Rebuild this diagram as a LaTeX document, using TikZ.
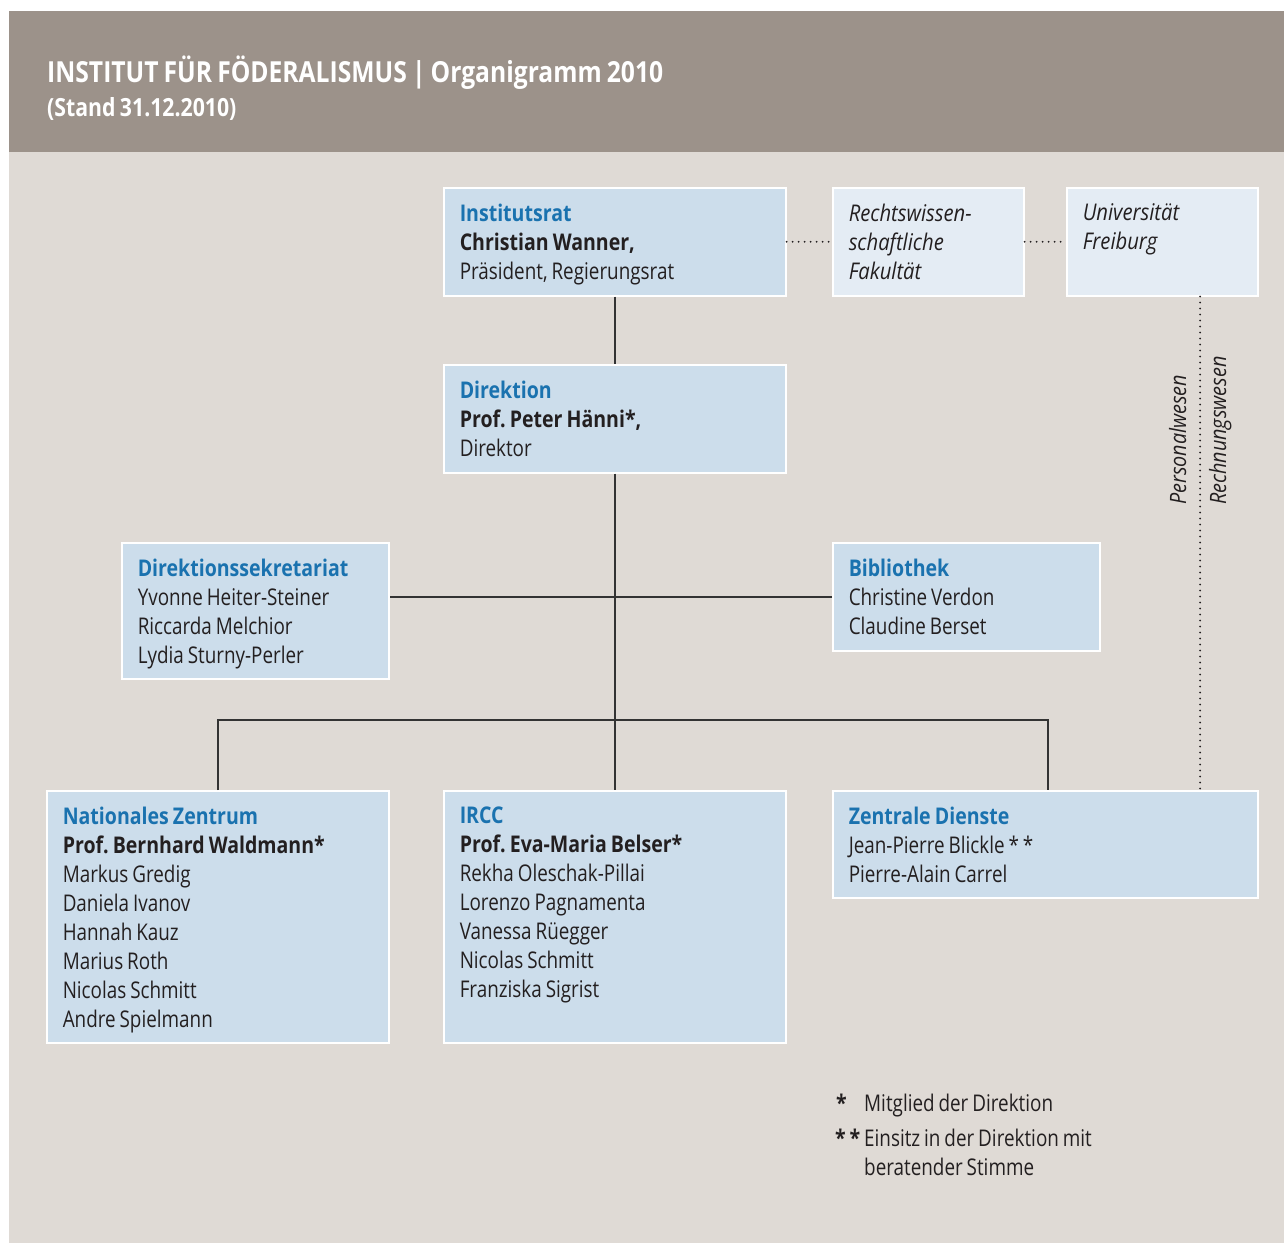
\documentclass[tikz,border=0pt]{standalone}
\usepackage{fontspec}
\setmainfont{Open Sans}[FakeStretch=0.82, WordSpace=0.8,
  BoldFeatures={FakeStretch=0.85},
  ItalicFeatures={FakeStretch=0.88}]
\frenchspacing
\definecolor{headband}{HTML}{9C928A}
\definecolor{paper}{HTML}{DFDAD5}
\definecolor{unitfill}{HTML}{CCDDEB}
\definecolor{palefill}{HTML}{E4ECF4}
\definecolor{unitblue}{HTML}{1A72AF}
\definecolor{ink}{HTML}{231F20}
\definecolor{wire}{HTML}{333333}
\newcommand\orghead[1]{\textcolor{unitblue}{\textbf{#1}}}
\begin{document}
\begin{tikzpicture}[x=1pt,y=-1pt,
  unit/.style={draw=white, line width=1.5pt, fill=unitfill, anchor=north west,
    inner xsep=16pt, inner ysep=0pt, align=left, text=ink,
    font=\fontsize{23}{29}\selectfont,
    execute at begin node={\spaceskip=0pt\xspaceskip=0pt\rule{0pt}{25pt}},
    execute at end node={\rule[-7pt]{0pt}{0pt}}},
  pale/.style={unit, fill=palefill, font=\fontsize{23}{29}\selectfont\itshape},
  wireline/.style={draw=wire, line width=1.5pt},
  dotline/.style={draw=ink, line width=2pt, line cap=round, dash pattern=on 0pt off 6pt},
  sidelabel/.style={rotate=90, anchor=base west, inner sep=0pt, text=ink,
    font=\fontsize{22.5}{27}\selectfont\itshape},
  notetext/.style={anchor=base west, inner sep=0pt, text=ink,
    font=\fontsize{23}{29}\selectfont}]
\useasboundingbox (0,0) rectangle (1284,1243);
\fill[white] (0,0) rectangle (1284,1243);
% backgrounds
\fill[paper] (9,152) rectangle (1284,1243);
\fill[headband] (9,11) rectangle (1284,152);
\node[anchor=base west, inner sep=0pt, text=white, font=\fontsize{29}{34}\selectfont\bfseries] (title) at (47,82)
  {INSTITUT FÜR FÖDERALISMUS | Organigramm 2010};
\node[anchor=base west, inner sep=0pt, text=white, font=\fontsize{25}{30}\selectfont\bfseries] (stand) at (47,116)
  {(Stand 31.12.2010)};

% units
\node[unit, text width=310pt, minimum height=108pt] (inst) at (443,187)
  {\orghead{Institutsrat}\\\textbf{Christian Wanner,}\\Präsident, Regierungsrat};
\node[pale, text width=159pt, minimum height=108pt] (rwf) at (832,187)
  {Rechtswissen-\\schaftliche\\Fakultät};
\node[pale, text width=159pt, minimum height=108pt] (uni) at (1066,187)
  {Universität\\Freiburg\\\strut};
\node[unit, text width=310pt, minimum height=108pt] (dir) at (443,364)
  {\orghead{Direktion}\\\textbf{Prof. Peter Hänni*,}\\Direktor};
\node[unit, text width=235pt, minimum height=136pt] (sek) at (121,542)
  {\orghead{Direktionssekretariat}\\Yvonne Heiter-Steiner\\Riccarda Melchior\\Lydia Sturny-Perler};
\node[unit, text width=235pt, minimum height=108pt] (bib) at (832,542)
  {\orghead{Bibliothek}\\Christine Verdon\\Claudine Berset};
\node[unit, text width=310pt, minimum height=252pt] (nat) at (46,790)
  {\orghead{Nationales Zentrum}\\\textbf{Prof. Bernhard Waldmann*}\\Markus Gredig\\Daniela Ivanov\\Hannah Kauz\\Marius Roth\\Nicolas Schmitt\\Andre Spielmann};
\node[unit, text width=310pt, minimum height=252pt] (ircc) at (443,790)
  {\orghead{IRCC}\\\textbf{Prof. Eva-Maria Belser*}\\Rekha Oleschak-Pillai\\Lorenzo Pagnamenta\\Vanessa Rüegger\\Nicolas Schmitt\\Franziska Sigrist\\\strut};
\node[unit, text width=393pt, minimum height=107pt] (zd) at (832,790)
  {\orghead{Zentrale Dienste}\\Jean-Pierre Blickle *\,*\\Pierre-Alain Carrel};

% reporting lines
\coordinate (bus) at (614,720);
\coordinate (zdtap) at (1048,790);
\draw[wireline] (inst.south) -- (dir.north);
\draw[wireline] (dir.south) -- (ircc.north);
\draw[wireline] (bib.west) -- (bib.west -| sek.east);
\draw[wireline] (nat.north) |- (bus) -| (zdtap);

% dotted links
\coordinate (admin) at (1200,0);
\draw[dotline] (inst.east |- rwf.west) -- (rwf.west);
\draw[dotline] (rwf.east) -- (uni.west);
\draw[dotline] (uni.south -| admin) -- (zd.north -| admin);
\node[sidelabel] (pers) at (1186,505) {Personalwesen};
\node[sidelabel] (rech) at (1226,505) {Rechnungswesen};

% footnotes
\node[notetext, font=\fontsize{23}{29}\selectfont\bfseries] (n1s) at (836,1111) {*};
\node[notetext] (n1) at (864,1111) {Mitglied der Direktion};
\node[notetext, font=\fontsize{23}{29}\selectfont\bfseries] (n2s) at (835,1146) {*\,*};
\node[notetext] (n2) at (864,1146) {Einsitz in der Direktion mit};
\node[notetext] (n3) at (864,1175) {beratender Stimme};
\end{tikzpicture}
\end{document}
